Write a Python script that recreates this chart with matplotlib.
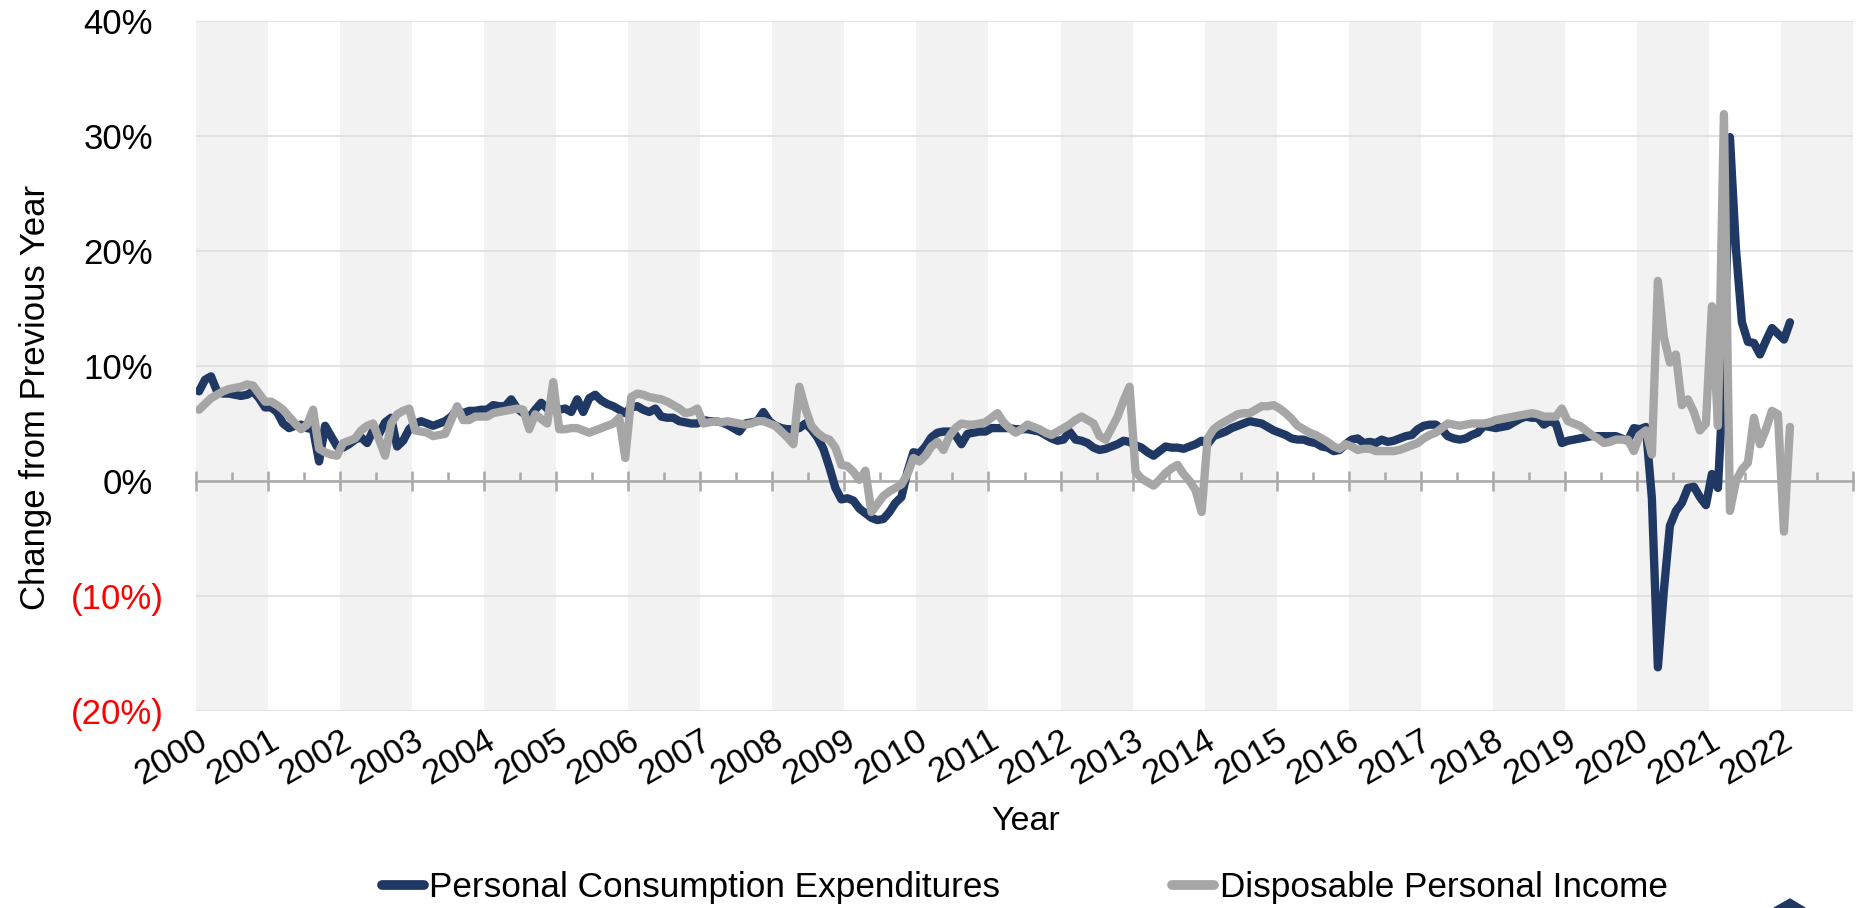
import numpy as np
import matplotlib
matplotlib.use('Agg')
import matplotlib.pyplot as plt
from matplotlib.lines import Line2D
from matplotlib.patches import Polygon

plt.rcParams['font.family'] = ['Liberation Sans', 'DejaVu Sans']

# monthly year-over-year change (%), Jan 2000 - Feb 2022
pce = [
    7.8, 8.8, 9.1, 7.8, 7.6, 7.6, 7.5, 7.4, 7.5, 7.8, 7.2, 6.4,       # 2000
    6.4, 6.0, 5.0, 4.6, 4.8, 4.9, 4.6, 4.5, 1.7, 4.8, 3.9, 3.0,       # 2001
    2.9, 3.2, 3.6, 3.8, 3.3, 4.4, 4.1, 5.1, 5.5, 3.0, 3.5, 4.5,       # 2002
    5.0, 5.2, 5.0, 4.8, 5.0, 5.2, 5.6, 6.2, 5.9, 6.1, 6.1, 6.2,       # 2003
    6.2, 6.6, 6.5, 6.5, 7.1, 6.3, 5.9, 5.5, 6.2, 6.8, 6.3, 6.2,       # 2004
    6.2, 6.3, 6.0, 7.1, 6.0, 7.2, 7.5, 7.0, 6.7, 6.5, 6.2, 5.9,       # 2005
    6.4, 6.5, 6.2, 6.0, 6.3, 5.6, 5.5, 5.5, 5.2, 5.1, 5.0, 5.0,       # 2006
    5.3, 5.2, 5.2, 5.1, 4.9, 4.6, 4.3, 5.0, 5.1, 5.2, 6.0, 5.2,       # 2007
    4.8, 4.6, 4.5, 4.5, 4.6, 5.0, 4.5, 3.8, 2.8, 1.2, -0.6, -1.6,     # 2008
    -1.5, -1.7, -2.4, -2.8, -3.2, -3.4, -3.3, -2.7, -1.9, -1.4, 0.8, 2.5,  # 2009
    2.4, 3.0, 3.8, 4.2, 4.3, 4.3, 4.0, 3.2, 4.1, 4.2, 4.3, 4.3,       # 2010
    4.6, 4.6, 4.6, 4.6, 4.5, 4.5, 4.5, 4.4, 4.3, 4.0, 3.7, 3.5,       # 2011
    3.6, 4.3, 3.6, 3.5, 3.3, 2.9, 2.7, 2.8, 3.0, 3.2, 3.5, 3.4,       # 2012
    3.1, 2.9, 2.5, 2.2, 2.6, 3.0, 2.9, 2.9, 2.8, 3.0, 3.2, 3.5,       # 2013
    3.2, 3.9, 4.1, 4.3, 4.6, 4.8, 5.0, 5.2, 5.1, 5.0, 4.7, 4.4,       # 2014
    4.2, 4.0, 3.7, 3.6, 3.6, 3.4, 3.3, 3.0, 2.9, 2.6, 2.7, 3.2,       # 2015
    3.6, 3.7, 3.3, 3.4, 3.3, 3.6, 3.4, 3.5, 3.7, 3.9, 4.0, 4.5,       # 2016
    4.8, 4.9, 4.9, 4.5, 3.9, 3.7, 3.6, 3.7, 4.0, 4.2, 4.8, 4.7,       # 2017
    4.6, 4.7, 4.8, 5.1, 5.4, 5.6, 5.5, 5.5, 4.9, 5.2, 5.0, 3.3,       # 2018
    3.5, 3.6, 3.7, 3.8, 3.9, 3.9, 3.9, 3.9, 3.9, 3.7, 3.5, 4.6,       # 2019
    4.5, 4.7, -1.5, -16.2, -9.5, -3.9, -2.6, -1.9, -0.6, -0.5, -1.4, -2.1,  # 2020
    0.6, -0.6, 9.5, 29.9, 20.2, 13.8, 12.1, 12.0, 11.0, 12.2, 13.3, 12.8,  # 2021
    12.3, 13.8,                                                      # 2022
]

dpi_income = [
    6.2, 6.7, 7.2, 7.5, 7.8, 8.0, 8.1, 8.2, 8.4, 8.3, 7.6, 6.9,       # 2000
    6.9, 6.6, 6.2, 5.6, 5.0, 4.5, 4.9, 6.2, 2.8, 2.5, 2.3, 2.2,       # 2001
    3.3, 3.5, 3.7, 4.4, 4.8, 5.0, 3.6, 2.2, 5.0, 5.8, 6.1, 6.3,       # 2002
    4.4, 4.3, 4.2, 3.9, 4.0, 4.1, 5.3, 6.5, 5.3, 5.3, 5.6, 5.6,       # 2003
    5.6, 5.9, 6.0, 6.1, 6.2, 6.3, 6.2, 4.5, 5.8, 5.4, 5.0, 8.6,       # 2004
    4.5, 4.5, 4.6, 4.6, 4.4, 4.2, 4.4, 4.6, 4.8, 5.0, 5.5, 2.0,       # 2005
    7.3, 7.6, 7.5, 7.3, 7.2, 7.1, 6.9, 6.6, 6.3, 5.9, 6.0, 6.3,       # 2006
    5.0, 5.1, 5.2, 5.1, 5.2, 5.1, 5.0, 4.9, 5.0, 5.2, 5.2, 5.0,       # 2007
    4.8, 4.3, 3.8, 3.2, 8.2, 6.3, 4.8, 4.2, 3.8, 3.6, 2.9, 1.4,       # 2008
    1.3, 0.8, 0.1, 0.9, -2.7, -2.0, -1.3, -0.9, -0.6, -0.3, 0.6, 2.0, # 2009
    1.7, 2.2, 3.0, 3.4, 2.7, 3.9, 4.6, 5.0, 4.9, 4.9, 5.0, 5.1,       # 2010
    5.5, 5.9, 5.1, 4.6, 4.2, 4.5, 4.9, 4.7, 4.5, 4.2, 4.0, 4.3,       # 2011
    4.6, 4.9, 5.3, 5.6, 5.3, 5.0, 3.9, 3.6, 4.6, 5.6, 7.0, 8.2,       # 2012
    0.8, 0.2, -0.1, -0.4, 0.1, 0.7, 1.1, 1.4, 0.6, 0.0, -0.8, -2.7,   # 2013
    3.7, 4.5, 4.9, 5.2, 5.5, 5.8, 5.9, 5.9, 6.2, 6.5, 6.5, 6.6,       # 2014
    6.3, 5.9, 5.4, 4.8, 4.5, 4.2, 4.0, 3.7, 3.4, 3.0, 2.8, 3.2,       # 2015
    3.0, 2.7, 2.8, 2.8, 2.6, 2.6, 2.6, 2.6, 2.7, 2.9, 3.1, 3.3,       # 2016
    3.7, 4.0, 4.2, 4.6, 5.0, 4.9, 4.8, 4.9, 5.0, 5.0, 5.0, 5.1,       # 2017
    5.3, 5.4, 5.5, 5.6, 5.7, 5.8, 5.9, 5.8, 5.6, 5.6, 5.6, 6.3,       # 2018
    5.2, 5.0, 4.8, 4.4, 4.0, 3.7, 3.3, 3.4, 3.6, 3.6, 3.6, 2.6,       # 2019
    4.0, 4.4, 2.3, 17.4, 12.5, 10.3, 11.0, 6.6, 7.1, 6.0, 4.4, 5.0,   # 2020
    15.2, 4.8, 31.9, -2.6, 0.0, 1.0, 1.6, 5.5, 3.2, 4.5, 6.1, 5.8,    # 2021
    -4.4, 4.7,                                                       # 2022
]

series_names = ['Personal Consumption Expenditures', 'Disposable Personal Income']
year_ticks = list(range(2000, 2024))
year_labels = [str(y) for y in range(2000, 2023)]
y_ticks = [-20, -10, 0, 10, 20, 30, 40]

navy = '#1f3864'
grey = '#a6a6a6'
axis_grey = '#aba7a7'

# month positions (mid-month) on a decimal-year axis
months = np.arange(len(pce))
xs = 2000 + (months + 0.5) / 12.0

fig = plt.figure(figsize=(18.6, 9.08), dpi=100)
ax = fig.add_axes([196 / 1860, 1 - 711 / 908, 1657 / 1860, 690 / 908])

ax.set_xlim(2000, 2023)
ax.set_ylim(-20, 40)

# alternating year shading
for y in year_ticks[:-1:2]:
    ax.axvspan(y, y + 1, color='#f2f2f2', lw=0, zorder=0)

ax.set_axisbelow(True)
ax.yaxis.grid(True, color='#dedede', lw=1.2)

ax.plot(xs, pce, color=navy, lw=6, solid_capstyle='round',
        solid_joinstyle='round', zorder=3)
ax.plot(xs, dpi_income, color=grey, lw=6, solid_capstyle='round',
        solid_joinstyle='round', zorder=4)

# zero line carries the year ticks
for side in ['top', 'right', 'left']:
    ax.spines[side].set_visible(False)
ax.spines['bottom'].set_position(('data', 0))
ax.spines['bottom'].set_color(axis_grey)
ax.spines['bottom'].set_linewidth(1.8)
ax.set_xticks(year_ticks)
ax.set_xticks([y + 0.5 for y in year_ticks[:-1]], minor=True)
ax.tick_params(axis='x', which='major', direction='inout', length=15,
               width=1.8, color=axis_grey, labelbottom=False)
ax.tick_params(axis='x', which='minor', direction='in', length=6.5,
               width=1.8, color=axis_grey)

# y labels, accounting style
ylabels = [f'{v}%' if v >= 0 else f'({-v}%)' for v in y_ticks]
ax.set_yticks(y_ticks)
ax.set_yticklabels(ylabels)
ax.tick_params(axis='y', length=0, pad=23, labelsize=25)
for v, lbl in zip(y_ticks, ax.get_yticklabels()):
    if v < 0:
        lbl.set_color('#ff0000')
    else:
        lbl.set_x(-11 / 1657)

# year labels at the bottom
sec = ax.secondary_xaxis(0.0)
sec.spines['bottom'].set_visible(False)
sec.set_xticks(year_ticks[:-1])
sec.set_xticklabels(year_labels, rotation=30, ha='right',
                    rotation_mode='anchor')
sec.tick_params(axis='x', length=0, pad=9, labelsize=25)
for lbl in sec.get_xticklabels():
    lbl.set_x(lbl.get_position()[0])

fig.text(36 / 1860, 1 - 397 / 908, 'Change from Previous Year', rotation=90,
         ha='center', va='center', fontsize=25)
fig.text(1026 / 1860, 1 - 821 / 908, 'Year', ha='center', va='center',
         fontsize=24.5)

handles = [Line2D([], [], color=navy, lw=7, solid_capstyle='round'),
           Line2D([], [], color=grey, lw=7, solid_capstyle='round')]
fig.legend(handles, series_names, loc='center', ncol=2, frameon=False,
           bbox_to_anchor=(1024.5 / 1860, 1 - 888 / 908), fontsize=25.3,
           handlelength=1.2, handletextpad=0.15, columnspacing=4.9,
           borderaxespad=0, borderpad=0)

# corner of the logo peeking in at the bottom right
fig.patches.append(Polygon([[1774 / 1860, 0], [1790 / 1860, 9 / 908],
                            [1805 / 1860, 0]], closed=True, color=navy,
                           transform=fig.transFigure, figure=fig))

fig.savefig('out.png', dpi=100)
